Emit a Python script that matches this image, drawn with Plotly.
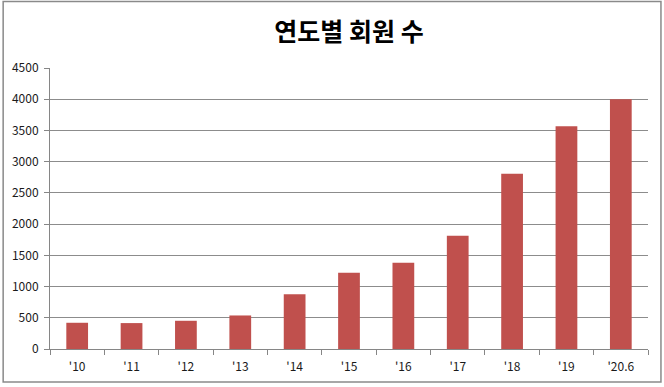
import plotly.graph_objects as go

categories = ["'10", "'11", "'12", "'13", "'14", "'15", "'16", "'17", "'18", "'19", "'20.6"]
members = [420, 415, 452, 537, 878, 1223, 1383, 1815, 2807, 3569, 4001]
y_ticks = [0, 500, 1000, 1500, 2000, 2500, 3000, 3500, 4000, 4500]

W, H = 664, 387
L, R, T, B = 48, 16, 67.5, 38
pw, ph = W - L - R, H - T - B

fig = go.Figure(go.Bar(
    x=categories, y=members,
    marker=dict(color="#C0504D", line=dict(width=0)),
    hoverinfo="x+y",
))

fig.update_layout(
    width=W, height=H,
    margin=dict(l=L, r=R, t=T, b=B),
    paper_bgcolor="white", plot_bgcolor="white",
    bargap=0.6,
    showlegend=False,
    title=dict(
        text="<b>연도별 회원 수</b>",
        x=0.5, xref="paper", xanchor="center",
        y=1 - 32.5 / H, yanchor="middle",
        font=dict(family="Noto Sans CJK KR", size=25, color="#000000"),
    ),
    font=dict(family="Noto Sans CJK KR, DejaVu Sans", size=12, color="#1a1a1a"),
    xaxis=dict(
        type="category",
        showgrid=False,
        showline=True, linecolor="#868686", linewidth=1,
        ticks="outside", tickson="boundaries", ticklen=5, tickcolor="#868686",
        tickfont=dict(size=12, color="#1a1a1a"),
        ticklabelstandoff=7,
        zeroline=False,
    ),
    yaxis=dict(
        range=[0, 4500],
        tickmode="array", tickvals=y_ticks,
        showgrid=True, gridcolor="#8C8C8C", gridwidth=1,
        showline=True, linecolor="#868686", linewidth=1,
        ticks="outside", ticklen=5, tickcolor="#868686",
        tickfont=dict(size=12, color="#1a1a1a"),
        ticklabelstandoff=3,
        zeroline=False,
    ),
    shapes=[dict(
        type="rect", xref="paper", yref="paper",
        x0=(1 - L) / pw, x1=(661 - L) / pw,
        y0=-(382 - (T + ph)) / ph, y1=1 + (T - 1) / ph,
        line=dict(color="#8A8A8A", width=1.5),
        fillcolor="rgba(0,0,0,0)", layer="below",
    )],
)

fig.write_html(
    "out.html",
    config={"displayModeBar": False},
    post_script="document.body.style.margin='0';document.body.style.padding='0';",
)
